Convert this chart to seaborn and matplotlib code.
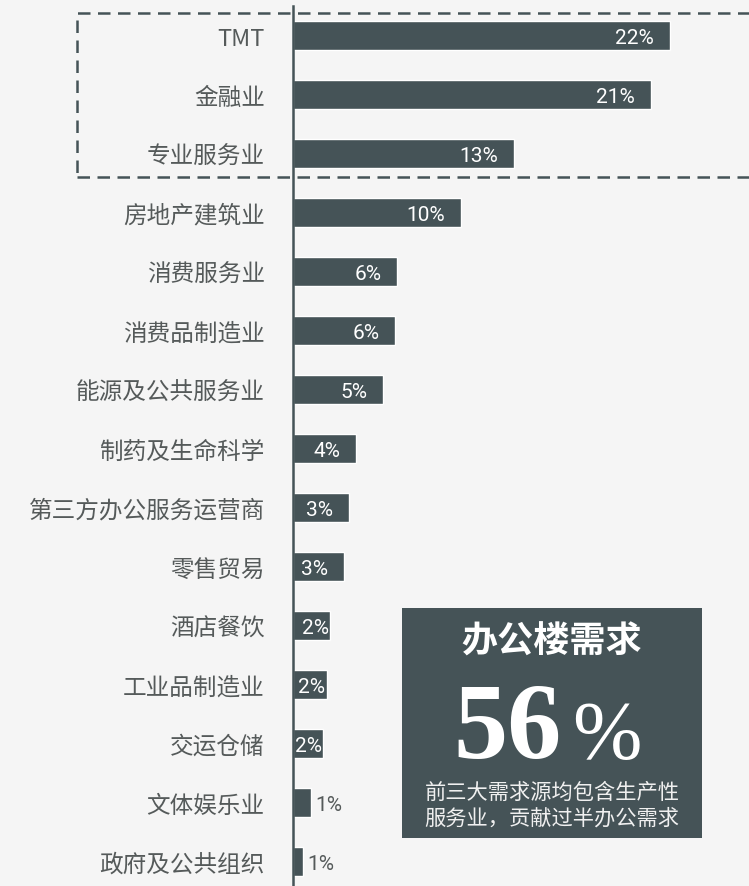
import matplotlib
matplotlib.use("Agg")
import matplotlib.pyplot as plt
from matplotlib.patches import Rectangle
import seaborn as sns
import pandas as pd

# Office leasing demand by tenant industry (share of total, %)
industries = ["TMT", "金融业", "专业服务业", "房地产建筑业", "消费服务业", "消费品制造业",
              "能源及公共服务业", "制药及生命科学", "第三方办公服务运营商", "零售贸易",
              "酒店餐饮", "工业品制造业", "交运仓储", "文体娱乐业", "政府及公共组织"]
shares = [22.0, 20.9, 12.9, 9.8, 6.1, 6.0, 5.3, 3.7, 3.3, 3.0, 2.2, 2.0, 1.8, 1.1, 0.6]

callout_title = "办公楼需求"
callout_value = "56"
callout_lines = ["前三大需求源均包含生产性", "服务业，贡献过半办公需求"]

BG = "#f5f5f5"
BAR = "#455357"
LABEL = "#555a5a"

sns.set_theme(style="white")
plt.rcParams["font.family"] = ["Noto Sans CJK SC", "DejaVu Sans"]

W, H = 749, 887
fig = plt.figure(figsize=(W / 100, H / 100), dpi=100, facecolor=BG)

zero_px = 292.5
px_per_unit = 17.16
ax = fig.add_axes([zero_px / W, 0, 1 - zero_px / W, (H - 7) / H])
ax.set_facecolor(BG)

df = pd.DataFrame({"industry": industries, "share": shares})
sns.barplot(data=df, x="share", y="industry", orient="h", color=BAR,
            saturation=1, width=0.5, ax=ax)

ax.set_xlim(0, (W - zero_px) / px_per_unit)
ax.set_ylim(14.415, -0.5)
ax.set_xlabel("")
ax.set_ylabel("")
ax.set_xticks([])
for side in ("top", "right", "bottom"):
    ax.spines[side].set_visible(False)
ax.spines["left"].set_color(BAR)
ax.spines["left"].set_linewidth(1.8)
ax.tick_params(axis="y", length=0, pad=20, labelsize=17, labelcolor=LABEL)

# value labels: inside the bar for larger shares, just outside for the smallest
num_style = dict(fontsize=15, family="Roboto", va="center")
for i, v in enumerate(shares):
    txt = f"{v:.0f}%"
    if v >= 2.5:
        ax.annotate(txt, (v, i + 0.03), xytext=(-11.5, 0), textcoords="offset points",
                    ha="right", color="white", **num_style)
    elif v >= 1.5:
        ax.annotate(txt, (v, i + 0.03), xytext=(-1, 0), textcoords="offset points",
                    ha="right", color="white", **num_style)
    else:
        ax.annotate(txt, (v, i + 0.03), xytext=(3, 0), textcoords="offset points",
                    ha="left", color="#555a5a", **num_style)

# dashed frame around the top three industries
frame = Rectangle((76.5 / W, 1 - 178 / H), (W + 10 - 76.5) / W, (178 - 14) / H,
                  transform=fig.transFigure, fill=False, edgecolor=BAR,
                  linewidth=1.8, linestyle=(0, (5, 3)), clip_on=False)
fig.add_artist(frame)

# callout panel
panel = Rectangle((402 / W, 1 - 839 / H), 300 / W, 230 / H,
                  transform=fig.transFigure, facecolor=BAR, edgecolor="none")
fig.add_artist(panel)
cx = 552 / W
fig.text(cx, 1 - 642 / H, callout_title, ha="center", va="center",
         color="white", fontsize=26, fontweight="bold")
fig.text(562 / W, 1 - 758 / H, callout_value, ha="right", va="baseline",
         color="white", fontsize=78, fontweight="bold", family="Liberation Serif")
fig.text(572 / W, 1 - 758 / H, "%", ha="left", va="baseline",
         color="white", fontsize=60, family="Liberation Serif")
fig.text(cx, 1 - 793 / H, callout_lines[0], ha="center", va="center",
         color="#f0f0f0", fontsize=15.3)
fig.text(cx, 1 - 819 / H, callout_lines[1], ha="center", va="center",
         color="#f0f0f0", fontsize=15.3)

fig.savefig("out.png", dpi=100, facecolor=BG)
